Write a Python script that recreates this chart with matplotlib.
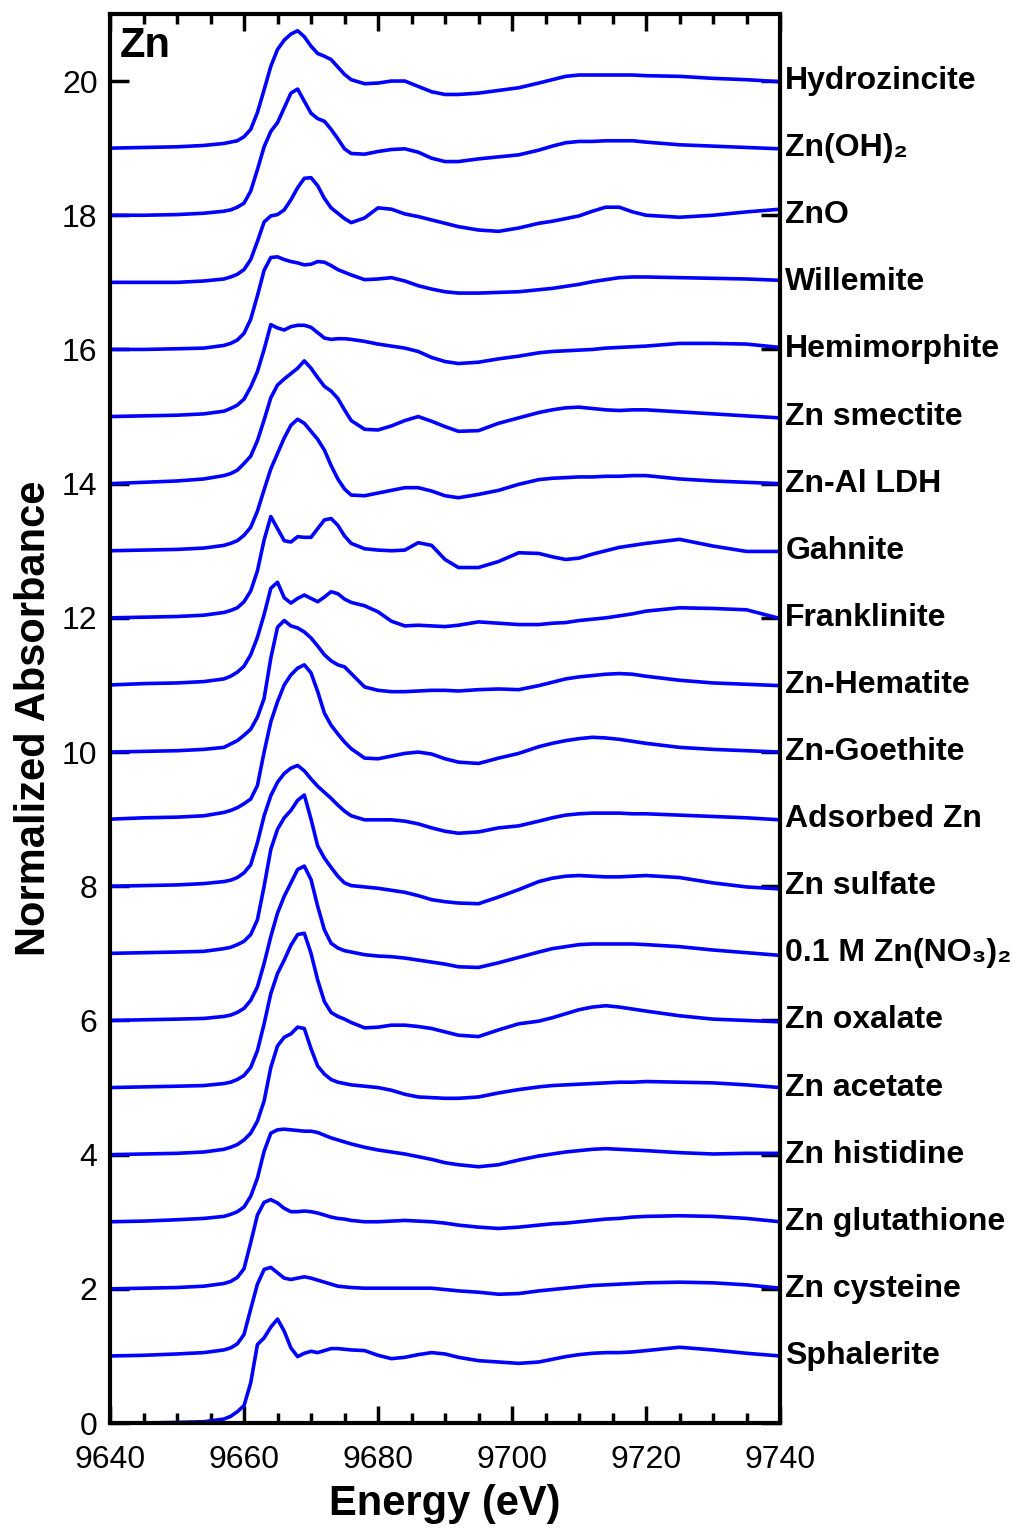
import matplotlib
matplotlib.use("Agg")

import matplotlib.pyplot as plt
from matplotlib.ticker import MultipleLocator

plt.rcParams["font.family"] = ["Liberation Sans", "DejaVu Sans"]

# energy grid shared by all spectra (eV)
ENERGY = [9640, 9645, 9650, 9654, 9657, 9658, 9659,
          9660, 9661, 9662, 9663, 9664, 9665, 9666, 9667, 9668, 9669, 9670, 9671, 9672, 9673, 9674, 9675, 9676,
          9678, 9680, 9682, 9684, 9686, 9688, 9690, 9692,
          9695, 9698, 9701, 9704, 9706, 9708, 9710, 9712, 9714, 9716, 9718, 9720,
          9725, 9730, 9735, 9740]

# normalized absorbance of each reference, before stacking
SPHALERITE = [0.00, 0.00, 0.01, 0.02, 0.06, 0.10, 0.17,
              0.26, 0.60, 1.17, 1.27, 1.43, 1.55, 1.37, 1.12, 0.99, 1.04, 1.07, 1.05, 1.08, 1.11, 1.11, 1.10, 1.09,
              1.08, 1.01, 0.96, 0.98, 1.02, 1.05, 1.03, 0.98,
              0.93, 0.91, 0.89, 0.91, 0.95, 0.99, 1.02, 1.04, 1.05, 1.05, 1.06, 1.08,
              1.13, 1.09, 1.04, 1.00]
ZN_CYSTEINE = [0.00, 0.01, 0.03, 0.05, 0.09, 0.12, 0.18,
               0.32, 0.70, 1.07, 1.29, 1.32, 1.24, 1.16, 1.14, 1.16, 1.18, 1.16, 1.13, 1.10, 1.07, 1.04, 1.03, 1.02,
               1.01, 1.01, 1.01, 1.01, 1.01, 1.01, 0.99, 0.97,
               0.95, 0.92, 0.93, 0.97, 0.99, 1.01, 1.03, 1.05, 1.06, 1.07, 1.08, 1.09,
               1.10, 1.09, 1.06, 1.01]
ZN_GLUTATHIONE = [0.00, 0.01, 0.02, 0.04, 0.08, 0.11, 0.17,
                  0.30, 0.69, 1.10, 1.29, 1.33, 1.28, 1.20, 1.15, 1.15, 1.16, 1.15, 1.13, 1.10, 1.07, 1.05, 1.04, 1.02,
                  1.00, 1.00, 1.01, 1.02, 1.01, 1.00, 0.98, 0.95,
                  0.92, 0.90, 0.92, 0.95, 0.97, 0.98, 1.00, 1.02, 1.04, 1.05, 1.07, 1.08,
                  1.09, 1.08, 1.05, 1.00]
ZN_HISTIDINE = [0.00, 0.01, 0.03, 0.05, 0.08, 0.11, 0.15,
                0.22, 0.38, 0.65, 1.05, 1.32, 1.37, 1.38, 1.37, 1.36, 1.35, 1.35, 1.33, 1.29, 1.25, 1.22, 1.19, 1.16,
                1.11, 1.07, 1.04, 1.01, 0.97, 0.93, 0.88, 0.85,
                0.82, 0.85, 0.92, 0.98, 1.01, 1.04, 1.06, 1.08, 1.09, 1.08, 1.07, 1.06,
                1.03, 1.01, 1.02, 1.02]
ZN_ACETATE = [0.00, 0.01, 0.02, 0.04, 0.08, 0.11, 0.15,
              0.22, 0.32, 0.50, 0.80, 1.30, 1.62, 1.75, 1.80, 1.90, 1.88, 1.58, 1.32, 1.20, 1.12, 1.08, 1.06, 1.04,
              1.02, 1.00, 0.96, 0.90, 0.86, 0.85, 0.84, 0.84,
              0.86, 0.92, 0.97, 1.01, 1.03, 1.04, 1.05, 1.06, 1.07, 1.08, 1.08, 1.09,
              1.08, 1.07, 1.04, 1.00]
ZN_OXALATE = [0.00, 0.01, 0.02, 0.03, 0.06, 0.08, 0.12,
              0.18, 0.30, 0.55, 0.95, 1.40, 1.70, 1.90, 2.12, 2.28, 2.30, 2.00, 1.60, 1.28, 1.12, 1.06, 1.02, 0.97,
              0.89, 0.90, 0.93, 0.93, 0.91, 0.88, 0.83, 0.78,
              0.76, 0.86, 0.95, 0.99, 1.04, 1.10, 1.16, 1.20, 1.22, 1.20, 1.17, 1.14,
              1.07, 1.02, 1.00, 0.98]
ZN_NITRATE = [0.00, 0.01, 0.02, 0.03, 0.06, 0.08, 0.12,
              0.18, 0.30, 0.50, 0.85, 1.25, 1.60, 1.85, 2.05, 2.25, 2.30, 2.10, 1.70, 1.35, 1.15, 1.08, 1.04, 1.02,
              0.98, 0.96, 0.95, 0.93, 0.90, 0.87, 0.84, 0.80,
              0.79, 0.86, 0.94, 1.02, 1.07, 1.10, 1.13, 1.14, 1.14, 1.14, 1.14, 1.13,
              1.10, 1.05, 1.01, 0.97]
ZN_SULFATE = [0.00, 0.01, 0.02, 0.03, 0.07, 0.09, 0.13,
              0.18, 0.28, 0.50, 1.00, 1.55, 1.85, 2.02, 2.13, 2.28, 2.36, 2.00, 1.60, 1.42, 1.28, 1.15, 1.05, 1.01,
              0.99, 0.97, 0.94, 0.91, 0.86, 0.80, 0.77, 0.75,
              0.74, 0.84, 0.95, 1.07, 1.12, 1.15, 1.16, 1.15, 1.14, 1.14, 1.15, 1.16,
              1.13, 1.05, 0.99, 0.96]
ADSORBED_ZN = [0.00, 0.01, 0.02, 0.04, 0.07, 0.09, 0.13,
               0.20, 0.32, 0.65, 1.05, 1.35, 1.55, 1.68, 1.76, 1.80, 1.72, 1.60, 1.49, 1.40, 1.31, 1.21, 1.12, 1.05,
               0.99, 0.99, 0.99, 0.97, 0.93, 0.87, 0.82, 0.79,
               0.81, 0.87, 0.90, 0.97, 1.02, 1.06, 1.08, 1.09, 1.09, 1.09, 1.08, 1.08,
               1.06, 1.04, 1.02, 0.99]
ZN_GOETHITE = [0.00, 0.02, 0.03, 0.05, 0.10, 0.13, 0.17,
               0.23, 0.30, 0.50, 1.00, 1.45, 1.75, 2.00, 2.15, 2.25, 2.30, 2.18, 1.90, 1.58, 1.40, 1.27, 1.15, 1.05,
               0.91, 0.90, 0.94, 0.98, 1.00, 0.97, 0.90, 0.85,
               0.83, 0.91, 0.98, 1.08, 1.13, 1.17, 1.20, 1.22, 1.21, 1.19, 1.16, 1.13,
               1.07, 1.04, 1.02, 1.00]
ZN_HEMATITE = [0.00, 0.01, 0.02, 0.04, 0.07, 0.12, 0.17,
               0.25, 0.34, 0.52, 0.80, 1.40, 1.86, 1.96, 1.88, 1.85, 1.79, 1.70, 1.58, 1.45, 1.36, 1.30, 1.27, 1.17,
               0.97, 0.92, 0.90, 0.90, 0.91, 0.92, 0.92, 0.91,
               0.93, 0.94, 0.93, 0.99, 1.04, 1.09, 1.12, 1.14, 1.16, 1.17, 1.16, 1.13,
               1.07, 1.03, 1.01, 0.99]
FRANKLINITE = [0.00, 0.02, 0.03, 0.05, 0.09, 0.13, 0.19,
               0.28, 0.45, 0.71, 1.05, 1.44, 1.53, 1.30, 1.22, 1.29, 1.34, 1.29, 1.24, 1.31, 1.39, 1.36, 1.28, 1.23,
               1.18, 1.09, 0.95, 0.88, 0.89, 0.88, 0.87, 0.89,
               0.94, 0.92, 0.90, 0.90, 0.92, 0.93, 0.96, 0.98, 1.00, 1.03, 1.06, 1.10,
               1.15, 1.14, 1.12, 0.99]
GAHNITE = [0.00, 0.01, 0.02, 0.04, 0.08, 0.11, 0.15,
           0.24, 0.40, 0.70, 1.16, 1.51, 1.33, 1.15, 1.13, 1.21, 1.20, 1.20, 1.33, 1.46, 1.48, 1.38, 1.22, 1.11,
           1.03, 1.01, 1.00, 1.01, 1.12, 1.08, 0.87, 0.75,
           0.75, 0.84, 0.97, 0.96, 0.91, 0.87, 0.89, 0.95, 1.00, 1.05, 1.08, 1.11,
           1.17, 1.07, 0.99, 0.99]
ZN_AL_LDH = [0.00, 0.01, 0.02, 0.04, 0.08, 0.11, 0.15,
             0.23, 0.35, 0.59, 0.91, 1.22, 1.45, 1.68, 1.87, 1.96, 1.90, 1.78, 1.66, 1.50, 1.27, 1.07, 0.92, 0.83,
             0.82, 0.86, 0.90, 0.94, 0.94, 0.89, 0.82, 0.79,
             0.84, 0.90, 0.99, 1.06, 1.08, 1.09, 1.10, 1.10, 1.11, 1.11, 1.12, 1.12,
             1.07, 1.04, 1.02, 1.00]
ZN_SMECTITE = [0.00, 0.02, 0.04, 0.07, 0.12, 0.15, 0.20,
               0.30, 0.41, 0.64, 0.95, 1.28, 1.47, 1.56, 1.64, 1.72, 1.83, 1.72, 1.58, 1.45, 1.38, 1.27, 1.10, 0.94,
               0.81, 0.80, 0.86, 0.94, 1.00, 0.93, 0.85, 0.78,
               0.79, 0.90, 0.98, 1.06, 1.10, 1.13, 1.14, 1.12, 1.10, 1.09, 1.10, 1.10,
               1.07, 1.04, 1.01, 0.98]
HEMIMORPHITE = [0.00, 0.01, 0.02, 0.04, 0.08, 0.12, 0.17,
                0.26, 0.44, 0.67, 1.00, 1.37, 1.32, 1.29, 1.34, 1.36, 1.36, 1.33, 1.25, 1.17, 1.15, 1.16, 1.16, 1.15,
                1.12, 1.08, 1.05, 1.02, 0.97, 0.88, 0.82, 0.79,
                0.81, 0.86, 0.90, 0.95, 0.97, 0.98, 0.99, 1.00, 1.02, 1.03, 1.04, 1.05,
                1.09, 1.09, 1.08, 1.03]
WILLEMITE = [0.00, 0.00, 0.01, 0.02, 0.06, 0.09, 0.14,
             0.24, 0.45, 0.80, 1.18, 1.37, 1.38, 1.34, 1.31, 1.29, 1.26, 1.27, 1.31, 1.30, 1.25, 1.19, 1.15, 1.11,
             1.04, 1.05, 1.07, 1.02, 0.95, 0.90, 0.86, 0.84,
             0.84, 0.85, 0.86, 0.89, 0.91, 0.94, 0.97, 1.01, 1.04, 1.07, 1.08, 1.08,
             1.07, 1.06, 1.05, 1.03]
ZNO = [0.00, 0.00, 0.00, 0.02, 0.05, 0.08, 0.12,
       0.19, 0.34, 0.61, 0.90, 0.99, 1.01, 1.08, 1.23, 1.41, 1.55, 1.56, 1.44, 1.25, 1.11, 1.03, 0.95, 0.89,
       0.96, 1.11, 1.09, 1.02, 0.98, 0.93, 0.88, 0.83,
       0.78, 0.76, 0.81, 0.88, 0.91, 0.95, 0.99, 1.06, 1.12, 1.12, 1.05, 1.00,
       0.97, 1.00, 1.05, 1.09]
ZN_OH2 = [0.00, 0.00, 0.01, 0.03, 0.06, 0.08, 0.12,
          0.18, 0.36, 0.68, 1.02, 1.25, 1.38, 1.60, 1.82, 1.88, 1.70, 1.52, 1.44, 1.40, 1.28, 1.14, 0.99, 0.92,
          0.91, 0.95, 0.98, 0.99, 0.94, 0.85, 0.80, 0.80,
          0.84, 0.87, 0.90, 0.97, 1.03, 1.08, 1.10, 1.10, 1.11, 1.11, 1.11, 1.09,
          1.05, 1.03, 1.01, 0.99]
HYDROZINCITE = [0.00, 0.01, 0.02, 0.04, 0.07, 0.09, 0.11,
                0.17, 0.28, 0.53, 0.87, 1.22, 1.47, 1.61, 1.70, 1.75, 1.66, 1.52, 1.41, 1.37, 1.32, 1.21, 1.10, 1.02,
                0.96, 0.97, 1.00, 1.00, 0.92, 0.84, 0.80, 0.80,
                0.82, 0.86, 0.90, 0.97, 1.02, 1.07, 1.09, 1.09, 1.09, 1.09, 1.09, 1.08,
                1.07, 1.04, 1.02, 0.99]

# bottom to top
SPECTRA = [SPHALERITE, ZN_CYSTEINE, ZN_GLUTATHIONE, ZN_HISTIDINE, ZN_ACETATE,
           ZN_OXALATE, ZN_NITRATE, ZN_SULFATE, ADSORBED_ZN, ZN_GOETHITE,
           ZN_HEMATITE, FRANKLINITE, GAHNITE, ZN_AL_LDH, ZN_SMECTITE,
           HEMIMORPHITE, WILLEMITE, ZNO, ZN_OH2, HYDROZINCITE]
LABELS = ["Sphalerite", "Zn cysteine", "Zn glutathione", "Zn histidine", "Zn acetate",
          "Zn oxalate", "0.1 M Zn(NO\u2083)\u2082", "Zn sulfate", "Adsorbed Zn", "Zn-Goethite",
          "Zn-Hematite", "Franklinite", "Gahnite", "Zn-Al LDH", "Zn smectite",
          "Hemimorphite", "Willemite", "ZnO", "Zn(OH)\u2082", "Hydrozincite"]
OFFSETS = [0, 1, 2, 3, 4, 5, 6, 7, 8, 9, 10, 11, 12, 13, 14, 15, 16, 17, 18, 19]

LINE_COLOR = "#0000ff"


def main() -> None:
    fig = plt.figure(figsize=(10.13, 15.32), dpi=100)
    ax = fig.add_axes([0.1086, 0.0711, 0.6614, 0.9198])

    for values, label, off in zip(SPECTRA, LABELS, OFFSETS):
        ax.plot(ENERGY, [v + off for v in values], color=LINE_COLOR, lw=2.6,
                solid_joinstyle="round", solid_capstyle="butt", clip_on=False)
        ax.text(1.008, off + 1, label, transform=ax.get_yaxis_transform(),
                ha="left", va="center", fontsize=23, fontweight="bold")

    ax.set_xlim(9640, 9740)
    ax.set_ylim(0, 21)

    ax.xaxis.set_major_locator(MultipleLocator(20))
    ax.xaxis.set_minor_locator(MultipleLocator(5))
    ax.yaxis.set_major_locator(MultipleLocator(2))

    ax.tick_params(axis="both", which="both", direction="in", top=True, right=True,
                   labelsize=23, width=2.5, colors="black")
    ax.tick_params(axis="x", which="major", length=12, pad=16)
    ax.tick_params(axis="x", which="minor", length=7)
    ax.tick_params(axis="y", which="major", length=14, pad=9)

    for side in ax.spines.values():
        side.set_linewidth(3)

    ax.set_xlabel("Energy (eV)", fontsize=30, fontweight="bold", labelpad=6)
    ax.set_ylabel("Normalized Absorbance", fontsize=30, fontweight="bold", labelpad=6)

    ax.text(0.015, 0.977, "Zn", transform=ax.transAxes, ha="left", va="center",
            fontsize=30, fontweight="bold")

    fig.savefig("out.png", dpi=100)


if __name__ == "__main__":
    main()
